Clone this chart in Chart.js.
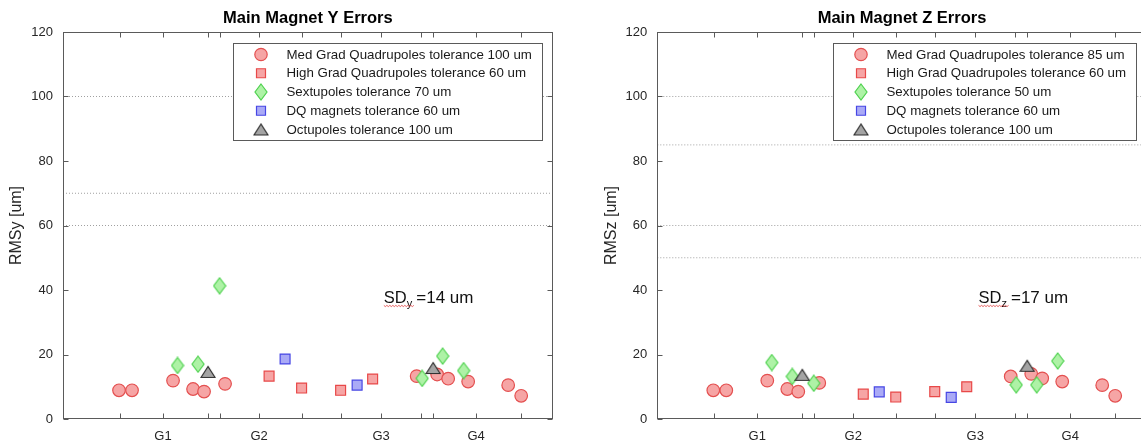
<!DOCTYPE html>
<html>
<head>
<meta charset="utf-8">
<script src="https://cdn.jsdelivr.net/npm/chart.js@4.4.1/dist/chart.umd.min.js"></script>
<style>
  html, body { margin: 0; padding: 0; background: #fff; overflow: hidden; }
  #wrap { position: relative; width: 1141px; height: 443px; overflow: hidden; }
  #left { position: absolute; left: 0; top: 0; }
  #right { position: absolute; left: 570px; top: 0; }
</style>
</head>
<body>
<div id="wrap">
  <canvas id="left" width="570" height="443"></canvas>
  <canvas id="right" width="594" height="443"></canvas>
</div>
<script>
// --- data ---
const xTickVals = [5.7, 10.0, 14.5, 15.7, 19.6, 23.9, 27.8, 31.8, 35.8, 37.0, 41.3, 45.8];
const xTickLabels = ['', 'G1', '', '', 'G2', '', '', 'G3', '', '', 'G4', ''];
const X_MIN = 0, X_MAX = 48.95;

// positions along the line (same in both panels)
const mgqX = [5.6, 6.9, 11.0, 13.0, 14.1, 16.2, 35.35, 37.4, 38.5, 40.5, 44.5, 45.8];
const hgqX = [20.6, 23.85, 27.75, 30.95];
const sextX = [11.45, 13.5, 15.65, 35.9, 37.95, 40.05];
const dqX = [22.2, 29.4];
const octX = [14.5, 37.0];

// Y errors
const mgqY = [8.9, 8.9, 11.9, 9.3, 8.5, 10.9, 13.3, 13.8, 12.5, 11.6, 10.5, 7.2];
const hgqY = [13.3, 9.6, 8.9, 12.4];
const sextY = [16.6, 17.0, 41.3, 12.6, 19.5, 15.0];
const dqY = [18.6, 10.5];
const octY = [14.6, 15.8];
const tolY = [100, 70, 60];
const labelsY = ['Med Grad Quadrupoles tolerance 100 um', 'High Grad Quadrupoles tolerance 60 um',
  'Sextupoles tolerance 70 um', 'DQ magnets tolerance 60 um', 'Octupoles tolerance 100 um'];

// Z errors
const mgqZ = [8.9, 8.9, 11.9, 9.3, 8.5, 11.2, 13.2, 14.0, 12.6, 11.6, 10.5, 7.2];
const hgqZ = [7.7, 6.8, 8.5, 10.0];
const sextZ = [17.5, 13.2, 11.1, 10.6, 10.6, 18.0];
const dqZ = [8.4, 6.7];
const octZ = [13.7, 16.5];
const tolZ = [100, 85, 60, 50];
const labelsZ = ['Med Grad Quadrupoles tolerance 85 um', 'High Grad Quadrupoles tolerance 60 um',
  'Sextupoles tolerance 50 um', 'DQ magnets tolerance 60 um', 'Octupoles tolerance 100 um'];

const FONT = 'Arial, "Liberation Sans", Helvetica, sans-serif';
Chart.defaults.font.family = FONT;

// custom marker shapes
const diamond = (() => {
  const c = document.createElement('canvas'); c.width = 14; c.height = 18;
  const g = c.getContext('2d');
  g.beginPath(); g.moveTo(7, 1); g.lineTo(13, 9); g.lineTo(7, 17); g.lineTo(1, 9); g.closePath();
  g.fillStyle = '#aef2a6'; g.fill();
  g.strokeStyle = '#4fd24f'; g.lineWidth = 1.2; g.stroke();
  return c;
})();
const triangle = (() => {
  const c = document.createElement('canvas'); c.width = 16; c.height = 14;
  const g = c.getContext('2d');
  g.beginPath(); g.moveTo(8, 1.5); g.lineTo(15, 12.5); g.lineTo(1, 12.5); g.closePath();
  g.fillStyle = '#a4a4a4'; g.fill();
  g.strokeStyle = '#2c2c2c'; g.lineWidth = 1.2; g.stroke();
  return c;
})();

const pts = (xs, ys) => xs.map((x, i) => ({ x, y: ys[i] }));

function buildDatasets(labels, mgq, hgq, sext, dq, oct, tol) {
  const tolSets = tol.map(v => ({
    data: [{ x: X_MIN, y: v }, { x: X_MAX, y: v }],
    showLine: true, borderColor: '#a0a0a0', borderWidth: 1, borderDash: [1, 2],
    pointRadius: 0, isTol: true, order: 10
  }));
  return tolSets.concat([
    { label: labels[0], data: pts(mgqX, mgq), pointStyle: 'circle', pointRadius: 6.3,
      backgroundColor: '#f6a5a5', borderColor: '#e45050', borderWidth: 1.2, order: 5 },
    { label: labels[1], data: pts(hgqX, hgq), pointStyle: 'rect', pointRadius: 7,
      backgroundColor: '#f6a5a5', borderColor: '#e84848', borderWidth: 1.2, order: 4 },
    { label: labels[2], data: pts(sextX, sext), pointStyle: diamond, pointRadius: 8, order: 3 },
    { label: labels[3], data: pts(dqX, dq), pointStyle: 'rect', pointRadius: 7,
      backgroundColor: '#aaaaf6', borderColor: '#4646e4', borderWidth: 1.2, order: 2 },
    { label: labels[4], data: pts(octX, oct), pointStyle: triangle, pointRadius: 8, order: 1 }
  ]);
}

// box + inward ticks (MATLAB look)
const framePlugin = {
  id: 'frame',
  afterDatasetsDraw(chart) {
    const { ctx, chartArea: a, scales: { x, y } } = chart;
    const L = Math.round(a.left) + 0.5, R = Math.round(a.right) - 0.5;
    const T = Math.round(a.top) + 0.5, B = Math.round(a.bottom) - 0.5;
    ctx.save();
    ctx.strokeStyle = '#5a5a5a'; ctx.lineWidth = 1;
    ctx.strokeRect(L, T, R - L, B - T);
    ctx.beginPath();
    y.ticks.forEach(t => {
      const py = Math.round(y.getPixelForValue(t.value)) + 0.5;
      ctx.moveTo(L, py); ctx.lineTo(L + 5, py);
      ctx.moveTo(R, py); ctx.lineTo(R - 5, py);
    });
    x.ticks.forEach(t => {
      const px = Math.round(x.getPixelForValue(t.value)) + 0.5;
      ctx.moveTo(px, B); ctx.lineTo(px, B - 5);
      ctx.moveTo(px, T); ctx.lineTo(px, T + 5);
    });
    ctx.stroke();
    ctx.restore();
  }
};

// "SD_y =14 um" note
const notePlugin = {
  id: 'sdNote',
  afterDatasetsDraw(chart, args, o) {
    const { ctx, scales: { x, y } } = chart;
    let px = x.getPixelForValue(o.x), py = y.getPixelForValue(o.y);
    ctx.save();
    ctx.fillStyle = '#111'; ctx.textBaseline = 'alphabetic'; ctx.textAlign = 'left';
    ctx.font = '16.5px ' + FONT;
    ctx.fillText(o.main, px, py);
    const x0 = px;
    px += ctx.measureText(o.main).width;
    ctx.font = '11px ' + FONT;
    ctx.fillText(o.sub, px, py + 4);
    px += ctx.measureText(o.sub).width + 4;
    const x1 = px - 2;
    ctx.font = '17px ' + FONT;
    ctx.fillText(o.rest, px, py);
    // spell-check squiggle
    ctx.strokeStyle = '#e03a3a'; ctx.lineWidth = 0.8;
    ctx.beginPath();
    for (let i = 0, xx = x0; xx <= x1; i++, xx += 1.5) {
      const yy = py + 3 + (i % 2 ? 1 : -0.2);
      i === 0 ? ctx.moveTo(xx, yy) : ctx.lineTo(xx, yy);
    }
    ctx.stroke();
    ctx.restore();
  }
};

// legend box inside the plot area, top right
const legendPlugin = {
  id: 'magLegend',
  afterDraw(chart) {
    const { ctx, chartArea: a } = chart;
    const sets = chart.data.datasets.filter(d => !d.isTol);
    ctx.save();
    ctx.font = '13.3px ' + FONT;
    const tw = Math.max(...sets.map(d => ctx.measureText(d.label).width));
    const w = Math.round(53 + tw + 11), h = 97;
    const bx = Math.round(a.right - 11 - w) + 0.5, by = Math.round(a.top + 11) + 0.5;
    ctx.fillStyle = '#fff'; ctx.fillRect(bx, by, w, h);
    ctx.strokeStyle = '#5a5a5a'; ctx.lineWidth = 1; ctx.strokeRect(bx, by, w, h);
    sets.forEach((d, i) => {
      const cy = by + 11 + i * 18.75, cx = bx + 27.5;
      const s = d.pointStyle;
      if (s instanceof HTMLCanvasElement) {
        ctx.drawImage(s, cx - s.width / 2, cy - s.height / 2);
      } else {
        ctx.fillStyle = d.backgroundColor; ctx.strokeStyle = d.borderColor; ctx.lineWidth = 1.2;
        ctx.beginPath();
        if (s === 'circle') ctx.arc(cx, cy, 6.2, 0, Math.PI * 2);
        else ctx.rect(cx - 4.5, cy - 4.5, 9, 9);
        ctx.fill(); ctx.stroke();
      }
      ctx.fillStyle = '#1a1a1a'; ctx.textBaseline = 'middle';
      ctx.fillText(d.label, bx + 53, cy + 0.5);
    });
    ctx.restore();
  }
};

function makeChart(id, title, yTitle, datasets, padLeft, yAxisW, note) {
  return new Chart(document.getElementById(id), {
    type: 'scatter',
    data: { datasets },
    plugins: [framePlugin, notePlugin, legendPlugin],
    options: {
      responsive: false, animation: false, events: [],
      layout: { padding: { left: padLeft, right: 17.3, top: 0, bottom: 0 } },
      plugins: {
        legend: { display: false }, tooltip: { enabled: false },
        title: { display: true, text: title, fullSize: false, color: '#000',
          font: { size: 16.5, weight: 'bold', family: FONT }, padding: { top: 9, bottom: 3.2 } },
        sdNote: note
      },
      scales: {
        x: {
          type: 'linear', min: X_MIN, max: X_MAX,
          grid: { display: false, drawTicks: false }, border: { display: false },
          afterBuildTicks: s => { s.ticks = xTickVals.map(v => ({ value: v })); },
          afterFit: s => { s.height = 24; },
          ticks: { autoSkip: false, maxRotation: 0, padding: 10, color: '#262626',
            font: { size: 13 }, callback: (v, i) => xTickLabels[i] }
        },
        y: {
          min: 0, max: 120,
          grid: { display: false, drawTicks: false }, border: { display: false },
          afterFit: s => { s.width = yAxisW; },
          ticks: { stepSize: 20, padding: 10, color: '#262626', font: { size: 13 } },
          title: { display: true, text: yTitle, color: '#262626', font: { size: 16 },
            padding: { top: 7, bottom: 0 } }
        }
      }
    }
  });
}

makeChart('left', 'Main Magnet Y Errors', 'RMSy [um]',
  buildDatasets(labelsY, mgqY, hgqY, sextY, dqY, octY, tolY), 0, 63,
  { x: 32.07, y: 36.1, main: 'SD', sub: 'y', rest: '=14 um' });
makeChart('right', 'Main Magnet Z Errors', 'RMSz [um]',
  buildDatasets(labelsZ, mgqZ, hgqZ, sextZ, dqZ, octZ, tolZ), 25, 62.3,
  { x: 32.13, y: 36.1, main: 'SD', sub: 'z', rest: '=17 um' });
</script>
</body>
</html>
